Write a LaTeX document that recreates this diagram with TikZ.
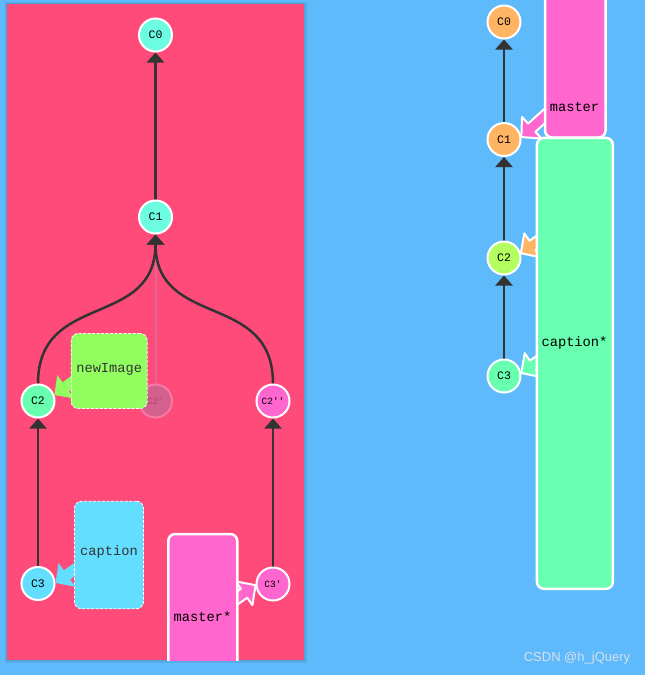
\documentclass[tikz,border=0pt]{standalone}
\usepackage{fontspec}
\setmainfont{Liberation Sans}
\setmonofont{Liberation Mono}
\usepackage{tikz}
\usetikzlibrary{positioning}
\usetikzlibrary{arrows.meta,backgrounds}

\definecolor{bgblue}{RGB}{94,186,250}
\definecolor{panelred}{RGB}{255,75,122}
\definecolor{aqua}{RGB}{108,252,226}
\definecolor{mint}{RGB}{104,255,176}
\definecolor{skyblue}{RGB}{100,222,255}
\definecolor{pinkish}{RGB}{255,102,206}
\definecolor{limegreen}{RGB}{146,255,96}
\definecolor{orangey}{RGB}{255,180,100}
\definecolor{yellowgreen}{RGB}{180,255,96}
\definecolor{edgegray}{RGB}{51,51,51}
\definecolor{ghostfill}{RGB}{212,96,142}
\definecolor{ghostrim}{RGB}{246,122,164}
\definecolor{ghosttext}{RGB}{172,70,110}
\definecolor{ghostline}{RGB}{226,100,148}
\definecolor{wmgray}{RGB}{214,224,236}

\begin{document}
\begin{tikzpicture}[x=1pt, y=-1pt, on grid,
    commit/.style={circle, draw=white, line width=2pt, minimum size=33pt, inner sep=0pt,
      font=\ttfamily\fontsize{11.5}{12}\selectfont},
    commitsm/.style={commit, font=\ttfamily\fontsize{9.5}{10}\selectfont},
    ghost/.style={commitsm, fill=ghostfill, draw=ghostrim, text=ghosttext},
    parentedge/.style={draw=edgegray, line width=2.5pt, -{Triangle[width=17pt,length=10pt]}},
    ghostlink/.style={draw=ghostline, line width=2pt},
    panelbox/.style={rectangle, fill=panelred, minimum width=297pt, minimum height=656pt, inner sep=0pt},
    branchbox/.style={rectangle, rounded corners=7pt, draw=white, line width=2.5pt, inner sep=0pt},
    dashbox/.style={rectangle, rounded corners=7pt, draw=white, line width=0.8pt,
      dash pattern=on 3pt off 1.5pt, inner sep=0pt},
    branchtext/.style={font=\ttfamily\fontsize{13.7}{16}\selectfont, text=edgegray, inner sep=0pt},
    brptr/.pic={\path[pic actions, line join=round] (0,0) -- (-14,14.5) -- (-14,5.5) -- (-36,5.5)
      -- (-36,-5.5) -- (-14,-5.5) -- (-14,-14.5) -- cycle;}]

  \useasboundingbox (0,0) rectangle (645,675);

  % Left repository: commits
  \node[commit, fill=aqua] (C0) at (155.5,35) {C0};
  \node[commit, fill=aqua, below=182pt of C0] (C1) {C1};
  \node[ghost, below=184pt of C1] (C2g) {C2'};
  \node[commit, fill=mint, left=117.5pt of C2g] (C2) {C2};
  \node[commitsm, fill=pinkish, right=117.5pt of C2g] (C2pp) {C2''};
  \node[commit, fill=skyblue, below=182.5pt of C2] (C3) {C3};
  \node[commitsm, fill=pinkish, below=183pt of C2pp] (C3p) {C3'};

  % Right repository: commits
  \node[commit, fill=orangey] (rC0) at (504,22) {C0};
  \node[commit, fill=orangey, below=117.5pt of rC0] (rC1) {C1};
  \node[commit, fill=yellowgreen, below=118.5pt of rC1] (rC2) {C2};
  \node[commit, fill=mint, below=118pt of rC2] (rC3) {C3};

  \begin{scope}[on background layer]
    \fill[bgblue] (0,0) rectangle (645,675);
    % panel shadow
    \fill[black, opacity=0.07] (4.5,1.5) rectangle (306.5,662.5);
    \fill[black, opacity=0.07] (5.8,2.8) rectangle (305.2,661.2);
    \node[panelbox] (panel) at (155.5,332) {};

    % C2' --> C1
    \draw[ghostlink] (C2g.north) -- (C1.south);

    % parents, left
    \draw[parentedge] (C1.north) -- (C0.south);
    \draw[parentedge] (C2.north) .. controls +(0,-93) and +(0,95) .. (C1.south);
    \draw[parentedge] (C2pp.north) .. controls +(0,-93) and +(0,95) .. (C1.south);
    \draw[parentedge] (C3.north) -- (C2.south);
    \draw[parentedge] (C3p.north) -- (C2pp.south);

    % parents, right
    \draw[parentedge] (rC1.north) -- (rC0.south);
    \draw[parentedge] (rC2.north) -- (rC1.south);
    \draw[parentedge] (rC3.north) -- (rC2.south);
  \end{scope}

  % branch pointers
  \pic[fill=limegreen, rotate=216] at (C2.20) {brptr};
  \pic[fill=skyblue, rotate=215] at (C3.2) {brptr};
  \pic[fill=pinkish, draw=white, line width=2pt, rotate=35] at (C3p.184) {brptr};
  \pic[fill=pinkish, draw=white, line width=2pt, rotate=222] at (rC1.8) {brptr};
  \pic[fill=orangey, draw=white, line width=2pt, rotate=214] at (rC2.16) {brptr};
  \pic[fill=mint, draw=white, line width=2pt, rotate=214] at (rC3.10) {brptr};

  % Left branches
  \node[dashbox, fill=limegreen, minimum width=76pt, minimum height=75pt] (newImageBox) at (109.2,371) {};
  \node[branchtext] (newImageTxt) at (109.2,369) {newImage};

  \node[dashbox, fill=skyblue, minimum width=69pt, minimum height=107.5pt] (captionBox) at (109,555) {};
  \node[branchtext] (captionTxt) at (109,552) {caption};

  \begin{scope}
    \clip (panel.south west) rectangle (panel.north east);
    \node[branchbox, fill=pinkish, minimum width=69pt, minimum height=150pt] (masterStarBox) at (202.75,609) {};
  \end{scope}
  \node[branchtext, text=black] (masterStarTxt) at (202.5,617) {master*};

  % Right branches
  \node[branchbox, fill=pinkish, minimum width=60.5pt, minimum height=155pt] (masterBox) at (575.3,60) {};
  \node[branchtext, text=black] (masterTxt) at (574.5,107.3) {master};

  \node[branchbox, fill=mint, minimum width=76pt, minimum height=451pt] (captionStarBox) at (574.9,363.3) {};
  \node[branchtext, text=black] (captionStarTxt) at (574.5,343.3) {caption*};

  % watermark
  \node[font=\fontsize{13}{15}\selectfont, text=wmgray] (wmark) at (577,658) {CSDN @h\_jQuery};

\end{tikzpicture}
\end{document}
